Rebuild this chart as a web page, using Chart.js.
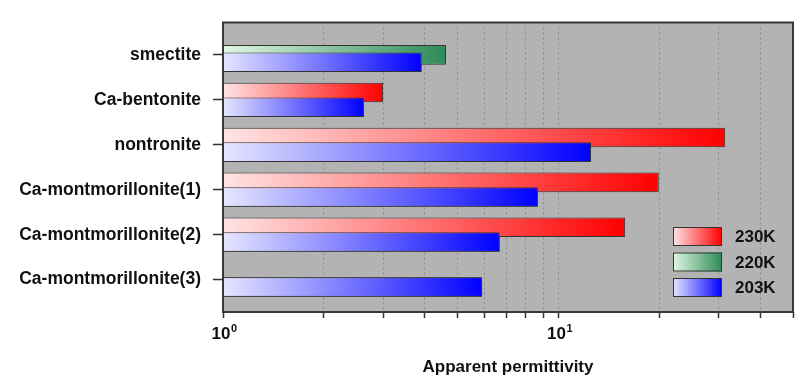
<!DOCTYPE html>
<html><head><meta charset="utf-8">
<script src="https://cdn.jsdelivr.net/npm/chart.js@4"></script>
<style>html,body{margin:0;padding:0;background:#fff;}</style>
</head><body>
<canvas id="c" width="809" height="380"></canvas>
<script>
const categories = ['smectite', 'Ca-bentonite', 'nontronite', 'Ca-montmorillonite(1)', 'Ca-montmorillonite(2)', 'Ca-montmorillonite(3)'];
const seriesNames = ['230K', '220K', '203K'];
const values230K = [null, 3.0, 31.4, 19.9, 15.8, null];
const values220K = [4.62, null, null, null, null, null];
const values203K = [3.91, 2.63, 12.5, 8.68, 6.68, 5.92];
const xTickValues = [1, 2, 3, 4, 5, 6, 7, 8, 9, 10, 20, 30, 40, 50];
const xTickLabels = {1: ['10', '0'], 10: ['10', '1']};
const xTitle = 'Apparent permittivity';

const seriesColors = [
  {light: '#ffe4e4', dark: '#ff0000'},
  {light: '#e0f7e4', dark: '#2e8b57'},
  {light: '#e6e6ff', dark: '#0000ff'}
];
const FONT = '"Liberation Sans", Arial, sans-serif';

function gradFill(light, dark) {
  return (ctx) => {
    const chart = ctx.chart;
    if (!chart.chartArea || !ctx.raw || ctx.raw.x == null) return dark;
    const xs = chart.scales.x;
    const x0 = xs.getPixelForValue(xs.min);
    const x1 = xs.getPixelForValue(ctx.raw.x);
    const g = chart.ctx.createLinearGradient(x0, 0, Math.max(x1, x0 + 1), 0);
    g.addColorStop(0, light);
    g.addColorStop(1, dark);
    return g;
  };
}
function toPoints(vals) { return vals.map((v, i) => ({x: v, y: i})); }

const seriesValues = [values230K, values220K, values203K];
const datasets = seriesNames.map((name, k) => ({
  label: name,
  data: toPoints(seriesValues[k]),
  backgroundColor: gradFill(seriesColors[k].light, seriesColors[k].dark),
  borderColor: '#333333',
  borderWidth: 1,
  borderSkipped: false,
  categoryPercentage: 0.49,
  barPercentage: 2.66
}));

const plotPlugin = {
  id: 'plotDecor',
  beforeDraw(chart) {
    const {ctx, chartArea: a} = chart;
    ctx.save();
    ctx.fillStyle = '#b3b3b3';
    ctx.fillRect(a.left, a.top, a.width, a.height);
    ctx.restore();
  },
  afterDatasetsDraw(chart) {
    // 203K bars sit on top of the overlapping bars
    chart.getDatasetMeta(2).controller.draw();
  },
  afterDraw(chart) {
    const {ctx, chartArea: a} = chart;
    ctx.save();
    ctx.strokeStyle = '#383838';
    ctx.lineWidth = 2;
    ctx.strokeRect(a.left, a.top, a.width, a.height);
    // x tick labels with superscript exponents
    const xs = chart.scales.x;
    ctx.fillStyle = '#111111';
    ctx.textBaseline = 'alphabetic';
    ctx.textAlign = 'left';
    Object.keys(xTickLabels).forEach((k) => {
      const [base, exp] = xTickLabels[k];
      const px = xs.getPixelForValue(+k);
      ctx.font = 'bold 17px ' + FONT;
      const wb = ctx.measureText(base).width;
      ctx.font = 'bold 11px ' + FONT;
      const we = ctx.measureText(exp).width;
      const x0 = px - (wb + we) / 2 + 1;
      const yb = a.bottom + 27;
      ctx.font = 'bold 17px ' + FONT;
      ctx.fillText(base, x0, yb);
      ctx.font = 'bold 11px ' + FONT;
      ctx.fillText(exp, x0 + wb + 0.5, yb - 7);
    });
    // legend
    const sw = 49, sh = 19, gap = 25.5;
    const sx = a.right - 120;
    const sy0 = a.bottom - 15 - sh - 2 * gap;
    ctx.font = 'bold 17px ' + FONT;
    ctx.textBaseline = 'middle';
    ctx.textAlign = 'left';
    seriesNames.forEach((name, k) => {
      const y = sy0 + k * gap;
      const g = ctx.createLinearGradient(sx, 0, sx + sw, 0);
      g.addColorStop(0, seriesColors[k].light);
      g.addColorStop(1, seriesColors[k].dark);
      ctx.fillStyle = g;
      ctx.fillRect(sx, y, sw, sh);
      ctx.strokeStyle = '#333333';
      ctx.lineWidth = 1;
      ctx.strokeRect(sx + 0.5, y + 0.5, sw - 1, sh - 1);
      ctx.fillStyle = '#111111';
      ctx.fillText(name, sx + 62, y + sh / 2 + 1);
    });
    ctx.restore();
  }
};

new Chart(document.getElementById('c'), {
  type: 'bar',
  data: {datasets},
  options: {
    indexAxis: 'y',
    responsive: false,
    animation: false,
    layout: {padding: {top: 22, right: 16, left: 0, bottom: 0}},
    plugins: {legend: {display: false}, tooltip: {enabled: false}},
    scales: {
      x: {
        type: 'logarithmic',
        min: 1, max: 50,
        afterBuildTicks: (s) => { s.ticks = xTickValues.map(v => ({value: v})); },
        afterFit: (s) => { s.height = 68; },
        border: {display: false, dash: [2, 3]},
        grid: {
          color: (c) => (c.tick && (c.tick.value === 1 || c.tick.value === 50)) ? 'rgba(0,0,0,0)' : '#8a8a8a',
          lineWidth: 1,
          drawTicks: true,
          tickLength: 6,
          tickColor: '#333333',
          tickWidth: 1.5,
          tickBorderDash: []
        },
        ticks: {
          autoSkip: false, maxRotation: 0, padding: 5,
          color: '#111111',
          font: {family: FONT, size: 16, weight: 'bold'},
          callback: () => ''
        },
        title: {
          display: true, text: xTitle, color: '#111111',
          font: {family: FONT, size: 17, weight: 'bold'},
          padding: {top: 0, bottom: 2}
        }
      },
      y: {
        type: 'linear',
        reverse: true,
        offset: false,
        min: -0.72, max: 5.72,
        afterBuildTicks: (s) => { s.ticks = categories.map((c, i) => ({value: i})); },
        afterFit: (s) => { s.width = 223; },
        border: {display: false},
        grid: {
          offset: false,
          drawOnChartArea: false,
          drawTicks: true,
          tickLength: 10,
          tickColor: '#333333',
          tickWidth: 1.5
        },
        ticks: {
          autoSkip: false, padding: 12,
          color: '#111111',
          font: {family: FONT, size: 17.5, weight: 'bold'},
          callback: (v) => categories[v] || ''
        }
      }
    }
  },
  plugins: [plotPlugin]
});
</script>
</body></html>
